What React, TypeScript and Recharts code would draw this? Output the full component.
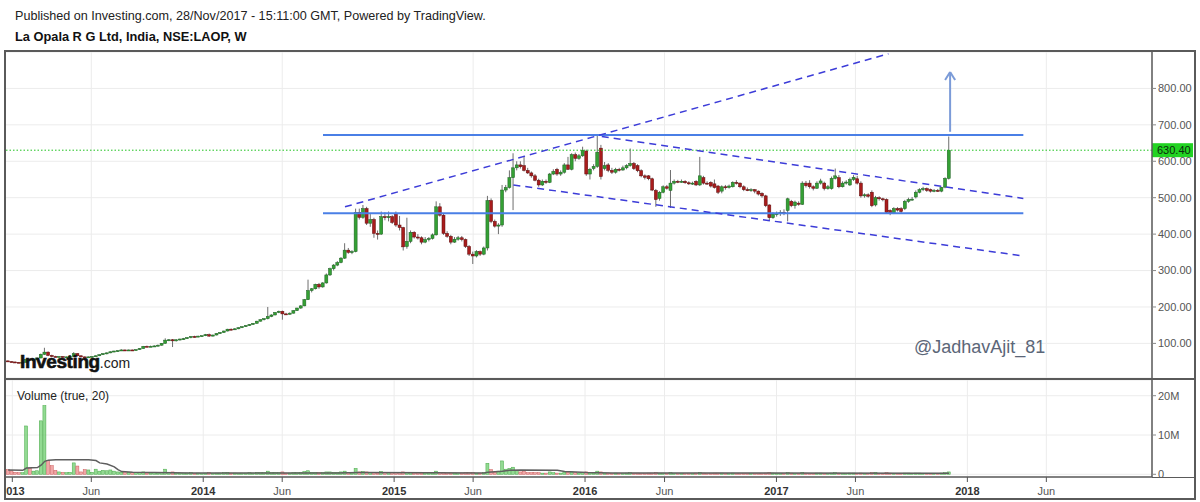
import React from 'react';
import {
    ComposedChart,
    Bar,
    Line,
    XAxis,
    YAxis,
    CartesianGrid,
    ReferenceLine
} from 'recharts';

// NSE:LAOP weekly bars, oldest first, [open, high, low, close]; last bar = week of 27 Nov 2017
const LAST_BAR = '2017-11-27';
const CANDLES: [number, number, number, number][] = [
    [52, 53, 49, 50], [50, 51, 48, 49], [49, 50, 47, 48], [48, 49, 46, 47], [47, 49, 46, 48], [48, 58, 47, 56], [56, 57, 53, 54], [54, 56, 53, 55],
    [55, 61, 54, 60], [60, 72, 59, 70], [70, 88, 68, 76], [76, 78, 65, 67], [67, 69, 62, 64], [64, 66, 62, 63], [63, 65, 62, 64], [64, 65, 61, 62],
    [62, 64, 61, 63], [63, 65, 62, 64], [64, 76, 63, 72], [72, 73, 64, 66], [66, 67, 62, 63], [63, 64, 61, 62], [62, 64, 61, 63], [63, 65, 62, 64],
    [64, 67, 63, 66], [66, 70, 65, 69], [69, 73, 68, 72], [72, 75, 70, 74], [74, 78, 73, 77], [77, 80, 76, 79], [79, 81, 77, 80], [80, 84, 79, 82],
    [82, 83, 80, 81], [81, 83, 80, 82], [82, 83, 79, 81], [81, 84, 80, 83], [83, 87, 82, 86], [86, 93, 85, 92], [92, 94, 90, 91], [91, 94, 90, 92],
    [92, 95, 91, 93], [93, 97, 92, 95], [95, 101, 94, 100], [100, 114, 99, 109], [109, 112, 106, 110], [110, 112, 90, 107], [107, 111, 105, 110], [110, 113, 108, 112],
    [112, 115, 110, 113], [113, 117, 112, 116], [116, 120, 114, 119], [119, 121, 116, 118], [118, 121, 117, 120], [120, 122, 118, 121], [121, 126, 120, 124], [124, 127, 118, 120],
    [120, 124, 119, 123], [123, 128, 122, 127], [127, 131, 126, 130], [130, 135, 129, 134], [134, 140, 133, 139], [139, 141, 136, 138], [138, 142, 137, 140], [140, 144, 139, 143],
    [143, 147, 142, 146], [146, 150, 145, 149], [149, 153, 148, 152], [152, 156, 151, 155], [155, 162, 154, 161], [161, 166, 160, 165], [165, 169, 163, 168], [168, 200, 166, 174],
    [174, 180, 172, 178], [178, 186, 177, 185], [185, 190, 183, 188], [188, 190, 165, 181], [181, 184, 178, 180], [180, 185, 179, 183], [183, 191, 182, 190], [190, 198, 189, 197],
    [197, 205, 195, 203], [203, 222, 202, 220], [220, 275, 219, 245], [245, 252, 240, 250], [250, 264, 248, 262], [262, 266, 250, 255], [255, 268, 253, 266], [266, 292, 264, 288],
    [288, 308, 285, 305], [305, 318, 300, 315], [315, 326, 312, 322], [322, 337, 320, 334], [334, 375, 332, 356], [356, 362, 346, 350], [350, 356, 345, 352], [352, 470, 350, 460],
    [460, 470, 440, 446], [446, 480, 442, 470], [470, 475, 425, 430], [430, 455, 420, 440], [440, 445, 390, 402], [402, 410, 385, 400], [400, 462, 398, 448], [448, 460, 438, 445],
    [445, 462, 435, 448], [448, 452, 428, 432], [455, 462, 420, 425], [425, 450, 410, 418], [418, 420, 355, 365], [366, 445, 360, 380], [380, 410, 375, 405], [405, 408, 388, 392],
    [392, 400, 385, 390], [390, 394, 372, 378], [378, 392, 375, 385], [385, 392, 380, 388], [388, 402, 385, 398], [398, 490, 396, 475], [475, 485, 448, 452], [452, 456, 398, 402],
    [402, 408, 390, 394], [394, 398, 372, 378], [378, 392, 376, 386], [386, 395, 382, 390], [390, 395, 380, 385], [385, 388, 362, 366], [366, 370, 340, 345], [345, 352, 318, 340],
    [340, 356, 336, 352], [352, 355, 340, 345], [345, 366, 342, 362], [362, 505, 355, 492], [492, 498, 430, 435], [435, 440, 418, 422], [422, 430, 400, 425], [425, 535, 420, 521],
    [521, 535, 515, 528], [528, 575, 525, 555], [555, 622, 466, 582], [582, 600, 575, 590], [590, 600, 580, 585], [588, 615, 572, 575], [575, 582, 565, 568], [568, 572, 555, 560],
    [560, 565, 545, 548], [548, 552, 530, 535], [535, 550, 532, 545], [545, 550, 538, 542], [542, 568, 540, 565], [565, 578, 562, 572], [578, 582, 560, 565], [565, 575, 560, 570],
    [570, 595, 566, 590], [590, 612, 576, 578], [578, 622, 575, 618], [618, 624, 600, 608], [608, 620, 604, 615], [615, 640, 612, 630], [628, 632, 560, 565], [565, 582, 550, 578],
    [580, 592, 575, 586], [586, 672, 582, 625], [636, 645, 550, 558], [580, 598, 575, 588], [590, 595, 570, 575], [575, 582, 565, 570], [570, 582, 566, 578], [578, 582, 572, 576],
    [576, 588, 574, 582], [582, 592, 578, 588], [588, 635, 585, 594], [594, 598, 576, 580], [588, 592, 570, 574], [574, 578, 556, 560], [560, 564, 550, 556], [560, 562, 548, 552],
    [552, 555, 518, 521], [520, 524, 475, 495], [498, 518, 492, 515], [515, 534, 512, 530], [530, 535, 522, 526], [520, 576, 472, 540], [540, 550, 536, 545], [545, 549, 540, 543],
    [543, 550, 541, 545], [545, 548, 538, 541], [541, 545, 535, 538], [538, 544, 535, 540], [545, 548, 532, 535], [535, 612, 532, 560], [555, 560, 536, 540], [540, 545, 535, 538],
    [542, 545, 528, 532], [538, 550, 525, 528], [532, 535, 510, 515], [518, 534, 512, 530], [530, 535, 522, 528], [528, 536, 525, 532], [530, 545, 528, 542], [542, 548, 536, 540],
    [540, 542, 526, 530], [530, 534, 518, 522], [522, 528, 518, 521], [521, 526, 516, 522], [522, 524, 512, 518], [518, 520, 506, 510], [512, 515, 500, 505], [505, 508, 474, 478],
    [480, 482, 438, 445], [445, 460, 442, 455], [455, 462, 448, 456], [456, 466, 450, 460], [460, 468, 452, 459], [465, 500, 435, 497], [490, 494, 474, 478], [478, 492, 470, 488],
    [485, 490, 478, 482], [482, 545, 480, 540], [540, 546, 528, 533], [540, 548, 525, 530], [530, 534, 520, 526], [526, 545, 524, 540], [540, 552, 536, 546], [540, 544, 520, 525],
    [525, 535, 522, 530], [525, 558, 522, 553], [553, 580, 550, 560], [555, 562, 526, 530], [530, 545, 528, 540], [540, 548, 536, 543], [535, 555, 532, 550], [550, 562, 546, 556],
    [552, 560, 536, 540], [540, 545, 500, 505], [505, 512, 500, 508], [508, 512, 500, 504], [515, 520, 474, 478], [480, 505, 476, 500], [500, 504, 492, 497], [497, 500, 490, 495],
    [495, 498, 456, 460], [465, 468, 452, 457], [458, 474, 455, 470], [470, 474, 462, 466], [470, 474, 458, 462], [470, 494, 466, 490], [490, 500, 486, 495], [495, 502, 492, 496],
    [502, 520, 498, 515], [515, 526, 512, 522], [522, 530, 518, 525], [525, 528, 516, 520], [522, 525, 514, 518], [518, 524, 515, 520], [520, 524, 516, 519], [518, 530, 515, 528],
    [529, 556, 526, 553], [553, 668, 550, 630.4],
];

// weekly volume, millions of shares, same order as CANDLES
const VOLUME = [
    1.2, 0.9, 0.5, 0.4, 0.4, 12.3, 1.5, 0.8, 0.9, 13.6, 17.5, 3.5, 2.2, 1.0, 0.6, 0.5,
    0.4, 0.5, 2.9, 2.1, 0.6, 1.2, 1.1, 0.5, 1.3, 0.8, 1.0, 0.9, 1.1, 0.8, 0.6, 0.5,
    0.4, 0.5, 0.4, 0.5, 0.4, 0.6, 0.3, 0.3, 0.4, 0.3, 0.4, 1.3, 0.5, 0.6, 0.3, 0.3,
    0.2, 0.3, 0.4, 0.2, 0.3, 0.2, 0.3, 0.4, 0.2, 0.3, 0.3, 0.4, 0.5, 0.3, 0.3, 0.2,
    0.3, 0.3, 0.4, 0.3, 0.5, 0.4, 0.4, 0.8, 0.4, 0.5, 0.4, 0.6, 0.3, 0.3, 0.4, 0.4,
    0.5, 0.7, 0.9, 0.5, 0.5, 0.4, 0.4, 0.6, 0.6, 0.5, 0.5, 0.6, 0.8, 0.4, 0.3, 1.5,
    0.6, 0.7, 0.6, 0.4, 0.5, 0.3, 0.7, 0.4, 0.4, 0.5, 0.5, 0.4, 0.6, 0.5, 0.4, 0.3,
    0.3, 0.3, 0.3, 0.3, 0.3, 0.8, 0.5, 0.5, 0.3, 0.3, 0.3, 0.2, 0.3, 0.4, 0.4, 0.4,
    0.3, 0.3, 0.4, 2.8, 1.2, 0.6, 0.8, 3.4, 1.3, 1.5, 1.8, 1.0, 0.6, 0.7, 0.4, 0.4,
    0.4, 0.4, 0.3, 0.3, 0.6, 0.4, 0.3, 0.3, 0.5, 0.5, 0.6, 0.4, 0.3, 0.5, 0.6, 0.3,
    0.3, 0.8, 0.6, 0.3, 0.3, 0.2, 0.3, 0.2, 0.2, 0.3, 0.4, 0.3, 0.3, 0.2, 0.2, 0.3,
    0.3, 0.4, 0.3, 0.3, 0.2, 0.4, 0.2, 0.2, 0.2, 0.2, 0.2, 0.2, 0.3, 0.5, 0.3, 0.2,
    0.2, 0.3, 0.3, 0.3, 0.2, 0.2, 0.3, 0.2, 0.2, 0.2, 0.2, 0.2, 0.2, 0.2, 0.2, 0.3,
    0.4, 0.3, 0.2, 0.2, 0.2, 0.4, 0.3, 0.2, 0.2, 0.5, 0.3, 0.2, 0.2, 0.3, 0.3, 0.2,
    0.2, 0.3, 0.4, 0.3, 0.2, 0.2, 0.3, 0.3, 0.2, 0.3, 0.2, 0.2, 0.4, 0.5, 0.2, 0.2,
    0.4, 0.3, 0.2, 0.2, 0.2, 0.3, 0.3, 0.2, 0.3, 0.3, 0.2, 0.2, 0.2, 0.2, 0.2, 0.3,
    0.4, 0.6,
];

// 20-week volume average: [bar index, millions]
const VOLUME_MA: [number, number][] = [
    [0, 1.1], [4, 1.0], [5, 1.6], [8, 1.7], [9, 2.3], [10, 3.3], [11, 3.6], [13, 3.7],
    [22, 3.7], [24, 3.5], [25, 2.9], [27, 2.6], [29, 1.9], [30, 1.2], [31, 0.7], [34, 0.55],
    [40, 0.45], [50, 0.35], [90, 0.35], [96, 0.45], [115, 0.4], [130, 0.35], [131, 0.5], [135, 0.8],
    [137, 1.0], [140, 1.1], [150, 1.0], [152, 0.7], [158, 0.45], [165, 0.35], [257, 0.25],
];

const X_DOMAIN = ['2012-12-18', '2018-12-20'];
const TIME_TICKS = ['2013-01-01', '2013-06-01', '2014-01-01', '2014-06-01', '2015-01-01', '2015-06-01',
    '2016-01-01', '2016-06-01', '2017-01-01', '2017-06-01', '2018-01-01', '2018-06-01'];
const TIME_LABELS = ['2013', 'Jun', '2014', 'Jun', '2015', 'Jun', '2016', 'Jun', '2017', 'Jun', '2018', 'Jun'];
const PRICE_TICKS = [100, 200, 300, 400, 500, 600, 700, 800];
const VOLUME_TICKS = [0, 10, 20];
const LAST_PRICE = 630.4;

// drawings on the chart
const RESISTANCE = 672;
const SUPPORT = 457;
const LEVELS_FROM = '2014-08-18';
const LEVELS_TO = '2018-04-18';
const RISING_TREND: [string, number][] = [['2014-09-29', 475], ['2017-08-03', 895]];
const CHANNEL_TOP: [string, number][] = [['2016-02-02', 668], ['2018-04-18', 498]];
const CHANNEL_BOTTOM: [string, number][] = [['2015-08-17', 535], ['2018-04-18', 340]];
const TARGET_ARROW = { at: '2017-11-29', from: 681, to: 845, headDays: 9.6, headDrop: 22 };

const DAY = 86400000;
const ts = (s: string) => Date.parse(s + 'T00:00:00Z');

const lastT = ts(LAST_BAR);
const rows = CANDLES.map(([o, h, l, c], i) => ({
    t: lastT - (CANDLES.length - 1 - i) * 7 * DAY,
    o, h, l, c,
    range: [l, h],
    v: VOLUME[i] ?? 0,
    ma: null as number | null,
}));
VOLUME_MA.forEach(([i, m]) => {
    if (rows[i]) rows[i].ma = m;
});

const xDomain = X_DOMAIN.map(ts);
const tickValues = TIME_TICKS.map(ts);
const labelByTick = new Map(tickValues.map((t, i) => [t, TIME_LABELS[i]]));

const FONT = '"Liberation Sans", Arial, sans-serif';
const GRID = '#ececec';
const FRAME = '#5a5a5a';

function Candle(props: any) {
    const { x, y, width, height, payload } = props;
    if (!payload || x == null) return null;
    const { o, h, l, c } = payload;
    const top = Math.min(y, y + height);
    const bottom = Math.max(y, y + height);
    const k = h > l ? (bottom - top) / (h - l) : 0;
    const yOf = (v: number) => top + (h - v) * k;
    const cx = x + width / 2;
    const bTop = yOf(Math.max(o, c));
    const bBot = yOf(Math.min(o, c));
    const up = c >= o;
    return (
        <g>
            <line x1={cx} x2={cx} y1={top} y2={bottom} stroke="#6e6e6e" strokeWidth={1} />
            <rect
                x={cx - 1.5}
                y={bTop}
                width={3}
                height={Math.max(1, bBot - bTop)}
                fill={up ? '#34a034' : '#a81c1c'}
                stroke={up ? '#1b5e20' : '#5e0c0c'}
                strokeWidth={0.5}
            />
        </g>
    );
}

function VolumeBar(props: any) {
    const { x, y, width, height, payload } = props;
    if (!payload || x == null) return null;
    const up = payload.c >= payload.o;
    const top = Math.min(y, y + height);
    return (
        <rect
            x={x + width / 2 - 1.5}
            y={top}
            width={3}
            height={Math.max(0.5, Math.abs(height))}
            fill={up ? 'rgba(110, 205, 110, 0.75)' : 'rgba(235, 130, 130, 0.7)'}
            stroke={up ? '#46a846' : '#cc5a5a'}
            strokeWidth={0.5}
        />
    );
}

function TimeTick(props: any) {
    const { x, y, payload } = props;
    const label = labelByTick.get(payload.value) ?? '';
    const isYear = /^\d{4}$/.test(label);
    return (
        <text
            x={x}
            y={y + 11}
            textAnchor="middle"
            fontSize={11}
            fontFamily={FONT}
            fontWeight={isYear ? 700 : 400}
            fill={isYear ? '#333' : '#555'}
        >
            {label}
        </text>
    );
}

function PriceTag(props: any) {
    const vb = props.viewBox;
    if (!vb) return null;
    const x = vb.x + vb.width;
    return (
        <g>
            <rect x={x} y={vb.y - 7} width={41} height={14} fill="#22d322" />
            <text x={x + 5} y={vb.y + 4} fontSize={11} fontFamily={FONT} fill="#0b2a0b">
                {LAST_PRICE.toFixed(2)}
            </text>
        </g>
    );
}

const trendSegment = (pts: [string, number][]) => pts.map(([d, v]) => ({ x: ts(d), y: v }));

export default function App() {
    const arrowT = ts(TARGET_ARROW.at);
    const headOffset = TARGET_ARROW.headDays * DAY;
    const headY = TARGET_ARROW.to - TARGET_ARROW.headDrop;

    return (
        <div style={{ position: 'absolute', left: 0, top: 0, width: 1200, height: 502, background: '#fff', fontFamily: FONT, overflow: 'hidden' }}>
            <div style={{ position: 'absolute', left: 15, top: 9.5, fontSize: 12.6, lineHeight: '12.6px', color: '#222', whiteSpace: 'nowrap' }}>
                Published on Investing.com, 28/Nov/2017 - 15:11:00 GMT, Powered by TradingView.
            </div>
            <div style={{ position: 'absolute', left: 15, top: 31, fontSize: 12.8, lineHeight: '12.8px', fontWeight: 700, color: '#111', whiteSpace: 'nowrap' }}>
                La Opala R G Ltd, India, NSE:LAOP, W
            </div>

            {/* price pane */}
            <div style={{ position: 'absolute', left: 5, top: 52 }}>
                <ComposedChart width={1191} height={326} data={rows} margin={{ top: 0, right: 0, bottom: 0, left: 0 }}>
                    <CartesianGrid stroke={GRID} />
                    <XAxis type="number" dataKey="t" domain={xDomain} ticks={tickValues} allowDataOverflow hide />
                    <YAxis
                        orientation="right"
                        width={44}
                        domain={[5, 900]}
                        ticks={PRICE_TICKS}
                        allowDataOverflow
                        tickFormatter={(v: number) => v.toFixed(2)}
                        tick={{ fontSize: 11, fill: '#555', fontFamily: FONT }}
                        tickSize={4}
                        tickMargin={2}
                        axisLine={{ stroke: FRAME, strokeWidth: 1.5 }}
                        tickLine={{ stroke: '#888' }}
                    />
                    <Bar dataKey="range" barSize={3} shape={(p: any) => <Candle {...p} />} isAnimationActive={false} />

                    <ReferenceLine y={LAST_PRICE} stroke="#1ec31e" strokeDasharray="1.5 2" label={<PriceTag />} />
                    <ReferenceLine
                        segment={[{ x: ts(LEVELS_FROM), y: RESISTANCE }, { x: ts(LEVELS_TO), y: RESISTANCE }]}
                        stroke="#4a7fe6" strokeWidth={2} ifOverflow="hidden"
                    />
                    <ReferenceLine
                        segment={[{ x: ts(LEVELS_FROM), y: SUPPORT }, { x: ts(LEVELS_TO), y: SUPPORT }]}
                        stroke="#4a7fe6" strokeWidth={2} ifOverflow="hidden"
                    />
                    <ReferenceLine segment={trendSegment(RISING_TREND)} stroke="#3c3cd8" strokeWidth={1.5} strokeDasharray="7 5" ifOverflow="hidden" />
                    <ReferenceLine segment={trendSegment(CHANNEL_TOP)} stroke="#3c3cd8" strokeWidth={1.5} strokeDasharray="7 5" ifOverflow="hidden" />
                    <ReferenceLine segment={trendSegment(CHANNEL_BOTTOM)} stroke="#3c3cd8" strokeWidth={1.5} strokeDasharray="7 5" ifOverflow="hidden" />
                    <ReferenceLine
                        segment={[{ x: arrowT, y: TARGET_ARROW.from }, { x: arrowT, y: TARGET_ARROW.to }]}
                        stroke="#7b9bd8" strokeWidth={2} ifOverflow="hidden"
                    />
                    <ReferenceLine
                        segment={[{ x: arrowT - headOffset, y: headY }, { x: arrowT, y: TARGET_ARROW.to }]}
                        stroke="#7b9bd8" strokeWidth={2} ifOverflow="hidden"
                    />
                    <ReferenceLine
                        segment={[{ x: arrowT + headOffset, y: headY }, { x: arrowT, y: TARGET_ARROW.to }]}
                        stroke="#7b9bd8" strokeWidth={2} ifOverflow="hidden"
                    />
                </ComposedChart>
            </div>

            {/* volume pane + time axis */}
            <div style={{ position: 'absolute', left: 5, top: 380 }}>
                <ComposedChart width={1191} height={119} data={rows} margin={{ top: 0, right: 0, bottom: 0, left: 0 }}>
                    <CartesianGrid stroke={GRID} />
                    <XAxis
                        type="number"
                        dataKey="t"
                        domain={xDomain}
                        ticks={tickValues}
                        allowDataOverflow
                        interval={0}
                        height={22}
                        tickSize={5}
                        tickMargin={2}
                        tick={<TimeTick />}
                        axisLine={{ stroke: FRAME, strokeWidth: 1.5 }}
                        tickLine={{ stroke: '#555' }}
                    />
                    <YAxis
                        orientation="right"
                        width={44}
                        domain={[-0.69, 24]}
                        ticks={VOLUME_TICKS}
                        allowDataOverflow
                        tickFormatter={(v: number) => (v === 0 ? '0' : `${v}M`)}
                        tick={{ fontSize: 11, fill: '#555', fontFamily: FONT }}
                        tickSize={4}
                        tickMargin={2}
                        axisLine={{ stroke: FRAME, strokeWidth: 1.5 }}
                        tickLine={{ stroke: '#888' }}
                    />
                    <Bar dataKey="v" barSize={3} shape={(p: any) => <VolumeBar {...p} />} isAnimationActive={false} />
                    <Line dataKey="ma" connectNulls stroke="#5e5e5e" strokeWidth={1.5} dot={false} isAnimationActive={false} />
                </ComposedChart>
            </div>

            {/* frame */}
            <div style={{ position: 'absolute', left: 4, top: 50, width: 1192, height: 450, border: `2px solid ${FRAME}`, boxSizing: 'border-box', pointerEvents: 'none' }} />
            <div style={{ position: 'absolute', left: 4, top: 378, width: 1192, height: 2, background: FRAME }} />
            <div style={{ position: 'absolute', left: 1152, top: 476.5, width: 44, height: 1.5, background: FRAME }} />

            <div style={{ position: 'absolute', left: 17, top: 390, fontSize: 12, lineHeight: '12px', color: '#222' }}>
                Volume (true, 20)
            </div>

            {/* watermarks */}
            <div style={{ position: 'absolute', left: 20, top: 352, whiteSpace: 'nowrap', lineHeight: '19px' }}>
                <span style={{ fontSize: 19, fontWeight: 700, color: '#111', letterSpacing: -0.4, WebkitTextStroke: '0.6px #111' }}>Investing</span>
                <span style={{ fontSize: 14, color: '#222' }}>.com</span>
            </div>
            <div style={{ position: 'absolute', left: 914, top: 338, fontSize: 18, lineHeight: '18px', color: '#5b6678', whiteSpace: 'nowrap' }}>
                @JadhavAjit_81
            </div>
        </div>
    );
}
